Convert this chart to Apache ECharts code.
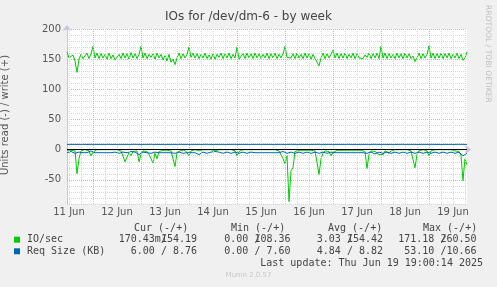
<!DOCTYPE html>
<html><head><meta charset="utf-8">
<script src="https://cdn.jsdelivr.net/npm/echarts@6/dist/echarts.min.js"></script>
<style>html,body{margin:0;padding:0;background:#f0f0f0;}#c{width:497px;height:287px;}</style>
</head><body><div id="c"></div>
<script>
// Hours since 11 Jun 00:00 of the first sample (11 Jun 11:00), hourly samples
const startHour = 11;
const dayLabels = ["11 Jun","12 Jun","13 Jun","14 Jun","15 Jun","16 Jun","17 Jun","18 Jun","19 Jun"];
const yTicks = [-50, 0, 50, 100, 150, 200];

// IO/sec write (+)
const writeIO = [162,152,149,157,147,128,150,158,151,150,160,151,159,171,152,160,151,159,152,158,
150,160,151,157,149,150,158,151,160,152,159,150,161,152,159,151,158,171,152,160,
151,158,153,159,150,160,152,158,149,156,147,158,145,150,141,152,160,151,159,152,
158,170,153,160,152,159,151,158,152,160,151,157,150,159,150,158,153,160,151,159,
152,160,151,158,152,170,150,152,159,151,160,152,159,151,160,152,159,151,158,152,
160,151,159,152,160,151,158,152,159,171,153,154,152,159,151,160,152,158,151,160,
152,159,150,158,151,153,139,152,160,151,159,152,158,165,152,160,151,159,152,160,
151,158,152,160,151,159,152,155,151,157,153,160,151,159,152,160,151,171,152,160,
151,159,152,158,151,160,152,159,151,160,152,159,151,155,146,152,160,151,159,152,
158,172,152,160,151,159,152,160,151,159,152,160,151,158,152,160,151,158,148,152,162];
// IO/sec read (-)
const readIO = [1,2,1,3,2,40,15,2,1,0,1,2,10,4,1,0,1,0,1,0,
1,0,1,0,1,0,1,2,3,20,18,5,10,3,6,2,20,8,2,5,
3,8,15,22,6,15,3,2,1,2,1,3,2,5,28,5,2,1,2,1,
2,10,2,1,0,1,2,1,0,1,0,1,0,1,2,1,0,1,0,1,
0,1,0,1,2,10,3,1,0,1,0,1,0,1,0,1,0,1,0,1,
0,1,0,1,0,1,2,3,15,23,10,86,35,30,3,2,1,2,1,0,
1,2,1,3,2,5,41,15,6,2,1,3,10,5,2,1,0,1,0,1,
0,1,0,1,2,1,0,1,2,3,31,8,2,1,3,2,8,10,8,2,
1,6,2,1,0,1,0,1,0,1,0,1,2,3,30,8,2,1,0,1,
2,10,2,1,0,1,0,1,0,1,0,1,0,1,2,1,3,10,51,15,25];
// Req Size (KB) write (+)
const writeSize = [8.8,8.9,8.8,8.7,8.8,8.9,8.8,8.8,8.9,8.8,8.7,8.8,8.9,8.8,8.8,8.7,8.8,8.9,8.8,8.8,
8.9,8.8,8.8,8.7,8.8,8.9,8.8,8.8,8.8,8.9,8.8,8.7,8.8,8.8,8.9,8.8,8.8,8.9,8.8,8.7,
8.8,8.8,8.9,8.8,8.8,8.7,8.8,8.9,8.8,8.8,8.8,8.9,8.8,8.7,8.8,8.8,8.9,8.8,8.8,8.7,
8.8,8.9,8.8,8.8,8.8,8.9,8.8,8.7,8.8,8.8,8.9,8.8,8.8,8.7,8.8,8.9,8.8,8.8,8.8,8.9,
8.8,8.7,8.8,8.8,8.9,8.8,8.8,8.7,8.8,8.9,8.8,8.8,8.8,8.9,8.8,8.7,8.8,8.8,8.9,8.8,
8.8,8.7,8.8,8.9,8.8,8.8,8.8,8.9,8.8,8.7,8.8,8.8,8.9,8.8,8.8,8.7,8.8,8.9,8.8,8.8,
8.8,8.9,8.8,8.7,8.8,8.8,8.9,8.8,8.8,8.7,8.8,8.9,8.8,8.8,8.8,8.9,8.8,8.7,8.8,8.8,
8.9,8.8,8.8,8.7,8.8,8.9,8.8,8.8,8.8,8.9,8.8,8.7,8.8,8.8,8.9,8.8,8.8,8.7,8.8,8.9,
8.8,8.8,8.8,8.9,8.8,8.7,8.8,8.8,8.9,8.8,8.8,8.7,8.8,8.9,8.8,8.8,8.8,8.9,8.8,8.7,
8.8,8.8,8.9,8.8,8.8,8.7,8.8,8.9,8.8,8.8,8.8,8.9,8.8,8.7,8.8,8.8,8.9,8.8,8.8,8.8,8.8];
// Req Size (KB) read (-)
const readSize = [5,6,3,5,6,5,4,6,5,6,5,4,2,4,5,6,5,4,5,6,
5,6,5,5,4,5,6,5,4,3,5,6,3,5,4,6,8,5,4,6,
5,4,6,5,4,6,5,3,5,4,5,6,5,4,6,5,4,5,6,5,
5,4,5,6,5,7,8,5,4,5,6,5,4,5,3,2,4,5,6,5,
4,5,6,5,4,5,6,5,4,5,6,5,4,5,5,6,5,4,5,6,
5,4,5,6,5,4,5,4,3,5,6,5,4,5,6,5,4,5,6,5,
4,5,6,5,4,5,6,5,4,5,6,5,4,3,5,6,5,4,5,6,
5,4,5,6,5,4,5,6,5,4,6,5,4,5,7,5,4,5,6,5,
4,5,6,5,4,5,6,5,4,5,6,5,4,5,6,5,4,5,6,5,
4,5,6,5,4,5,6,5,4,5,6,5,4,5,6,5,4,6,10,8,6];

const legendNames = ["IO/sec", "Req Size (KB)"];
const legendColors = ["#00cc00", "#0066b3"];
const legendHeaders = ["Cur (-/+)", "Min (-/+)", "Avg (-/+)", "Max (-/+)"];
// [read part, write part] per column
const ioStats = [["170.43m","154.19"],["0.00 ","108.36"],["3.03 ","154.42"],["171.18 ","260.50"]];
const sizeStats = [["6.00 ","  8.76"],["0.00 ","  7.60"],["4.84 ","  8.82"],["53.10 "," 10.66"]];
const lastUpdate = "Last update: Thu Jun 19 19:00:14 2025";

const toPairs = (arr, sign) => arr.map((v, i) => [startHour + i, sign * v]);
const xMax = startHour + writeIO.length - 1;

const minorX = [], majorX = [];
for (let h = 12; h <= xMax; h += 6) { (h % 24 === 0 ? majorX : minorX).push(h); }
const labelHours = dayLabels.map((d, i) => 12 + 24 * i);

const gridC = '#d8d8d8', majC = '#f0a8a8', axisC = '#c4c4e8';
const mono = '"DejaVu Sans Mono", monospace';
const sans = '"DejaVu Sans", sans-serif';

const chart = echarts.init(document.getElementById('c'), null, {renderer: 'canvas'});

const colEnds = [197, 290.5, 383, 476.5];
const headerX = [134, 231, 328, 423];
const charW = 6.02;
const graphics = [];
graphics.push({type:'text', left:'center', top: 11, style:{text:'IOs for /dev/dm-6 - by week', font:'12px '+sans, fill:'#444'}});
graphics.push({type:'text', x: 5, y: 115, rotation: Math.PI/2, style:{text:'Units read (-) / write (+)', font:'10px '+sans, fill:'#555', align:'center', verticalAlign:'middle'}});
graphics.push({type:'text', x: 488, y: 54, rotation: -Math.PI/2, style:{text:'RRDTOOL / TOBI OETIKER', font:'7.6px '+sans, fill:'#c0c0c0', align:'center', verticalAlign:'middle'}});
legendHeaders.forEach((t, i) => graphics.push({type:'text', x: headerX[i], y: 228, style:{text:t, font:'10px '+mono, fill:'#444', verticalAlign:'middle'}}));
[ioStats, sizeStats].forEach((row, r) => {
  const y = r === 0 ? 239.7 : 251.3;
  graphics.push({type:'rect', shape:{x:14, y:y-3, width:6, height:6}, style:{fill: legendColors[r]}});
  graphics.push({type:'text', x: 27, y: y, style:{text: legendNames[r], font:'10px '+mono, fill:'#444', verticalAlign:'middle'}});
  row.forEach((cell, c) => {
    graphics.push({type:'text', x: colEnds[c], y: y, style:{text: cell[0] + cell[1], font:'10px '+mono, fill:'#444', align:'right', verticalAlign:'middle'}});
    graphics.push({type:'text', x: colEnds[c] - 6*charW + charW/2, y: y, style:{text: '/', font:'10px '+mono, fill:'#444', align:'center', verticalAlign:'middle'}});
  });
});
graphics.push({type:'text', x: 483, y: 263.7, style:{text: lastUpdate, font:'10px '+mono, fill:'#444', align:'right', verticalAlign:'middle'}});
graphics.push({type:'text', left:'center', top: 272, style:{text:'Munin 2.0.57', font:'7px '+sans, fill:'#c8c8c8'}});

const ySplitColors = [gridC, gridC, gridC, gridC, majC];

chart.setOption({
  backgroundColor: '#f0f0f0',
  animation: false,
  grid: {left: 67, right: 30, top: 29, bottom: 83, show: true, backgroundColor: '#ffffff', borderWidth: 0},
  xAxis: {
    type: 'value', min: startHour, max: xMax,
    splitLine: {show: false},
    axisLine: {show: true, lineStyle: {color: axisC, width: 1}, symbol: ['none', 'arrow'], symbolSize: [7, 6], symbolOffset: [0, 4]},
    axisTick: {show: false},
    axisLabel: {customValues: labelHours, formatter: v => dayLabels[(v - 12) / 24], color: '#555', fontFamily: sans, fontSize: 10, margin: 3}
  },
  yAxis: {
    type: 'value', min: -90, max: 200, interval: 10,
    splitLine: {show: true, lineStyle: {color: ySplitColors, type: [1, 1], width: 1}},
    axisLine: {show: true, lineStyle: {color: axisC, width: 1}, symbol: ['none', 'arrow'], symbolSize: [7, 6], symbolOffset: [0, 4]},
    axisTick: {show: false},
    axisLabel: {formatter: v => yTicks.includes(v) ? String(v) : '', color: '#555', fontFamily: sans, fontSize: 10, margin: 6}
  },
  graphic: graphics,
  series: [
    {type: 'line', data: [], silent: true, markLine: {silent: true, symbol: 'none', label: {show: false},
      data: minorX.map(h => ({xAxis: h, lineStyle: {color: gridC, type: [1, 1], width: 1}})).concat(
            majorX.map(h => ({xAxis: h, lineStyle: {color: majC, type: [1, 1], width: 1}})))}},
    {name: 'IO read', type: 'line', data: toPairs(readIO, -1), symbol: 'none', lineStyle: {color: '#00cc00', width: 1}, z: 3},
    {name: 'IO write', type: 'line', data: toPairs(writeIO, 1), symbol: 'none', lineStyle: {color: '#00cc00', width: 1}, z: 3},
    {name: 'Size read', type: 'line', data: toPairs(readSize, -1), symbol: 'none', lineStyle: {color: '#0066b3', width: 1}, z: 4},
    {name: 'Size write', type: 'line', data: toPairs(writeSize, 1), symbol: 'none', lineStyle: {color: '#0066b3', width: 1}, z: 4,
      markLine: {silent: true, symbol: 'none', label: {show: false}, data: [{yAxis: 0}], lineStyle: {color: '#000', type: 'solid', width: 1}}}
  ]
});
</script></body></html>
